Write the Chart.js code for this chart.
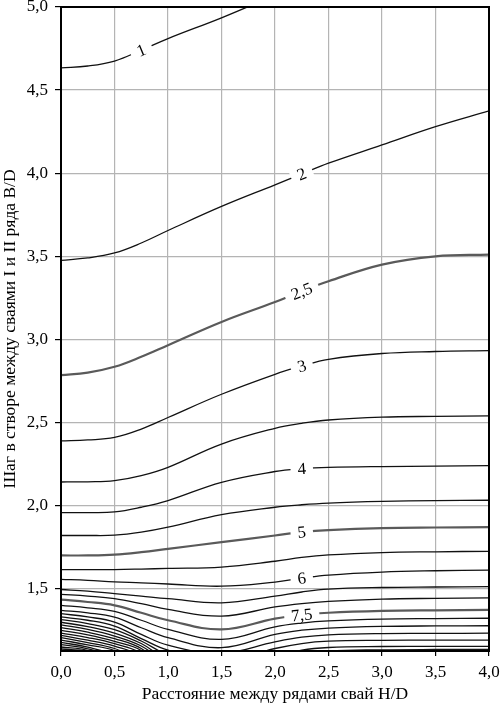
<!DOCTYPE html>
<html>
<head>
<meta charset="utf-8">
<script src="https://cdn.jsdelivr.net/npm/chart.js@4.4.0/dist/chart.umd.min.js"></script>
<style>
  html, body { margin: 0; padding: 0; background: #fff; }
  #wrap { width: 500px; height: 709px; }
</style>
</head>
<body>
<div id="wrap"><canvas id="isoChart"></canvas></div>
<script>
const xGrid = [0, 0.25, 0.5, 0.75, 1, 1.5, 2, 2.25, 2.5, 3, 3.5, 4];
const xTicks = [0, 0.5, 1, 1.5, 2, 2.5, 3, 3.5, 4];
const yTicks = [1.5, 2, 2.5, 3, 3.5, 4, 4.5, 5];

// B/D of each isoline at xGrid (short arrays = line runs out of the plot)
const iso1    = [4.634, 4.645, 4.675, 4.74, 4.81, 4.935, 5.07, 5.13, 5.19, 5.29, 5.37, 5.42];
const iso2    = [3.476, 3.49, 3.52, 3.58, 3.655, 3.80, 3.93, 3.995, 4.06, 4.17, 4.28, 4.375];
const iso2_5  = [2.785, 2.80, 2.835, 2.895, 2.965, 3.105, 3.225, 3.29, 3.35, 3.45, 3.50, 3.51];
const iso3    = [2.389, 2.395, 2.41, 2.46, 2.53, 2.67, 2.79, 2.84, 2.88, 2.915, 2.927, 2.932];
const iso3_5  = [2.142, 2.143, 2.15, 2.18, 2.23, 2.37, 2.465, 2.495, 2.515, 2.532, 2.537, 2.54];
const iso4    = [1.958, 1.958, 1.962, 1.99, 2.03, 2.14, 2.205, 2.222, 2.23, 2.235, 2.237, 2.24];
const iso4_5  = [1.82, 1.82, 1.822, 1.84, 1.87, 1.945, 1.99, 2.005, 2.015, 2.025, 2.03, 2.032];
const iso5    = [1.70, 1.70, 1.705, 1.72, 1.74, 1.78, 1.82, 1.84, 1.852, 1.864, 1.868, 1.87];
const iso5_5  = [1.615, 1.615, 1.615, 1.618, 1.622, 1.63, 1.665, 1.688, 1.703, 1.717, 1.722, 1.725];
const iso6    = [1.556, 1.55, 1.541, 1.535, 1.528, 1.515, 1.54, 1.563, 1.582, 1.60, 1.608, 1.612];
const iso6_5  = [1.495, 1.485, 1.47, 1.455, 1.44, 1.415, 1.455, 1.48, 1.497, 1.507, 1.51, 1.512];
const iso7    = [1.466, 1.455, 1.44, 1.41, 1.375, 1.335, 1.39, 1.41, 1.423, 1.437, 1.442, 1.445];
const iso7_5  = [1.434, 1.42, 1.40, 1.355, 1.31, 1.255, 1.32, 1.342, 1.355, 1.366, 1.37, 1.372];
const iso8    = [1.40, 1.385, 1.363, 1.31, 1.255, 1.195, 1.27, 1.293, 1.306, 1.317, 1.32, 1.322];
const iso8_5  = [1.37, 1.355, 1.329, 1.265, 1.205, 1.145, 1.225, 1.25, 1.263, 1.273, 1.276, 1.277];
const iso9    = [1.35, 1.33, 1.299, 1.225, 1.16, 1.112, 1.18, 1.208, 1.222, 1.23, 1.231, 1.232];
const iso9_5  = [1.33, 1.31, 1.275, 1.20, 1.13, 1.06, 1.14, 1.17, 1.184, 1.189, 1.19, 1.19];
const iso10   = [1.314, 1.29, 1.253, 1.185, 1.10, 1.00, 1.09, 1.13, 1.146, 1.152, 1.153, 1.153];
const iso10_5 = [1.298, 1.272, 1.233, 1.17, 1.07, 0.95, 1.05, 1.10, 1.124, 1.132, 1.134, 1.134];
const iso11   = [1.282, 1.255, 1.215, 1.155, 1.04];
const iso11_5 = [1.266, 1.238, 1.199, 1.14, 1.01];
const iso12   = [1.249, 1.222, 1.183, 1.128, 0.98];
const iso12_5 = [1.233, 1.206, 1.169, 1.11, 0.95];
const iso13   = [1.219, 1.19, 1.154, 1.09, 0.92];
const iso13_5 = [1.205, 1.176, 1.14, 1.07];
const iso14   = [1.191, 1.162, 1.128, 1.05];
const iso14_5 = [1.177, 1.148, 1.10, 1.0];
const iso15   = [1.163, 1.138, 1.08, 0.95];
const iso15_5 = [1.149, 1.128, 1.05, 0.9];
const iso16   = [1.137, 1.118, 1.02, 0.88];

const levels = [1, 2, 2.5, 3, 3.5, 4, 4.5, 5, 5.5, 6, 6.5, 7, 7.5, 8, 8.5, 9, 9.5, 10, 10.5,
                11, 11.5, 12, 12.5, 13, 13.5, 14, 14.5, 15, 15.5, 16];
const isolines = [iso1, iso2, iso2_5, iso3, iso3_5, iso4, iso4_5, iso5, iso5_5, iso6, iso6_5,
                  iso7, iso7_5, iso8, iso8_5, iso9, iso9_5, iso10, iso10_5, iso11, iso11_5,
                  iso12, iso12_5, iso13, iso13_5, iso14, iso14_5, iso15, iso15_5, iso16];

// which isolines carry a number, and where
const labelLevels = [1, 2, 2.5, 3, 4, 5, 6, 7.5];
const labelAtX    = [0.75, 2.25, 2.25, 2.25, 2.25, 2.25, 2.25, 2.25];
const boldLevels  = [2.5, 5, 7.5];

const fmt = v => String(+v.toFixed(2)).replace('.', ',');
const fmt1 = v => v.toFixed(1).replace('.', ',');

const datasets = isolines.map((ys, i) => {
  const lvl = levels[i];
  const j = labelLevels.indexOf(lvl);
  const bold = boldLevels.includes(lvl);
  return {
    data: xGrid.map((x, k) => ({ x: x, y: ys[k] === undefined ? null : ys[k] })),
    level: lvl,
    labelIndex: j < 0 ? -1 : xGrid.indexOf(labelAtX[j]),
    showLine: true,
    borderColor: bold ? '#5a5a5a' : '#111',
    borderWidth: bold ? 2.2 : 1.3,
    pointRadius: 0,
    tension: 0.4
  };
});

const isolineLabels = {
  id: 'isolineLabels',
  afterDatasetsDraw(chart) {
    const ctx = chart.ctx;
    chart.data.datasets.forEach((ds, i) => {
      if (ds.labelIndex < 0) return;
      const pts = chart.getDatasetMeta(i).data;
      const p = pts[ds.labelIndex], a = pts[ds.labelIndex - 1], b = pts[ds.labelIndex + 1];
      const ang = Math.atan2(b.y - a.y, b.x - a.x);
      const text = fmt(ds.level);
      ctx.save();
      ctx.font = '17px "Liberation Serif"';
      ctx.textAlign = 'center';
      ctx.textBaseline = 'middle';
      const w = ctx.measureText(text).width;
      ctx.translate(p.x, p.y);
      ctx.rotate(ang);
      ctx.fillStyle = '#fff';
      ctx.fillRect(-w / 2 - 7, -6, w + 14, 12);
      ctx.fillStyle = '#000';
      ctx.fillText(text, 0, 1);
      ctx.restore();
    });
    // black frame round the plot
    const { left, top, right, bottom } = chart.chartArea;
    ctx.save();
    ctx.strokeStyle = '#000';
    ctx.lineWidth = 2;
    ctx.strokeRect(left, top, right - left, bottom - top);
    ctx.restore();
  }
};

const tickFont = { family: '"Liberation Serif"', size: 17 };
const titleFont = { family: '"Liberation Serif"', size: 17.5 };

new Chart(document.getElementById('isoChart'), {
  type: 'scatter',
  data: { datasets: datasets },
  plugins: [isolineLabels],
  options: {
    responsive: true,
    maintainAspectRatio: false,
    animation: false,
    layout: { padding: { top: 7, right: 11, bottom: 0, left: 0 } },
    plugins: { legend: { display: false }, tooltip: { enabled: false } },
    scales: {
      x: {
        type: 'linear', min: 0, max: 4,
        afterBuildTicks: s => { s.ticks = xTicks.map(v => ({ value: v })); },
        afterFit: s => { s.height = 58; s.paddingLeft = 0; s.paddingRight = 0; },
        grid: { color: '#b4b4b4', lineWidth: 1.2, tickLength: 5, tickColor: '#000' },
        border: { display: false },
        ticks: { font: tickFont, color: '#000', padding: 6, maxRotation: 0, callback: v => fmt1(v) },
        title: { display: true, text: 'Расстояние между рядами свай H/D', font: titleFont, color: '#000',
                 padding: { top: 0, bottom: 4 } }
      },
      y: {
        type: 'linear', min: 1.125, max: 5,
        afterBuildTicks: s => { s.ticks = yTicks.map(v => ({ value: v })); },
        afterFit: s => { s.width = 61; s.paddingTop = 0; s.paddingBottom = 0; },
        grid: { color: '#b4b4b4', lineWidth: 1.2, tickLength: 6, tickColor: '#000' },
        border: { display: false },
        ticks: { font: tickFont, color: '#000', padding: 7, callback: v => fmt1(v) },
        title: { display: true, text: 'Шаг в створе между сваями I и II ряда B/D', font: titleFont, color: '#000',
                 padding: { top: 0, bottom: 0 } }
      }
    }
  }
});
</script>
</body>
</html>
